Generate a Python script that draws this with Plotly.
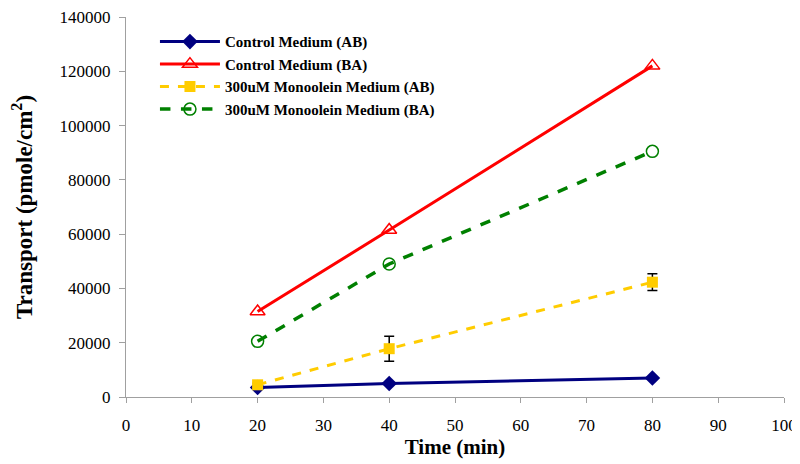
import plotly.graph_objects as go

time = [20, 40, 80]
ctrl_ab = [3500, 5000, 7000]
ctrl_ba = [31500, 61500, 122000]
mono_ab = [4500, 17800, 42300]
mono_ab_err = [600, 4600, 3100]
mono_ba = [20500, 49000, 90500]

names = ["Control Medium (AB)", "Control Medium (BA)",
         "300uM Monoolein Medium (AB)", "300uM Monoolein Medium (BA)"]

fig = go.Figure()
fig.add_trace(go.Scatter(x=time, y=ctrl_ab, name=names[0], mode="lines+markers",
                         line=dict(color="#000080", width=3),
                         marker=dict(symbol="diamond", size=12, color="#000080")))
fig.add_trace(go.Scatter(x=time, y=ctrl_ba, name=names[1], mode="lines+markers",
                         line=dict(color="#FF0000", width=3),
                         marker=dict(symbol="triangle-up-open", size=13, color="#FF0000", line=dict(width=1.5))))
fig.add_trace(go.Scatter(x=time, y=mono_ab, name=names[2], mode="lines+markers",
                         line=dict(color="#FFCC00", width=3, dash="dash"),
                         marker=dict(symbol="square", size=11, color="#FFCC00"),
                         error_y=dict(type="data", array=mono_ab_err, color="black", thickness=1.5, width=5)))
fig.add_trace(go.Scatter(x=time, y=mono_ba, name=names[3], mode="lines+markers",
                         line=dict(color="#008000", width=3.5, dash="dash"),
                         marker=dict(symbol="circle-open", size=12, color="#008000", line=dict(width=1.5))))

fig.update_layout(
    width=792, height=456,
    margin=dict(l=118, r=16, t=9, b=67),
    paper_bgcolor="white", plot_bgcolor="white",
    font=dict(family="Liberation Serif, Times New Roman, serif", color="black", size=17),
    legend=dict(x=0.044, y=0.978, xanchor="left", yanchor="top",
                font=dict(size=15, family="Liberation Serif", color="black", weight="bold"),
                bgcolor="rgba(0,0,0,0)", tracegroupgap=0, itemwidth=60),
    showlegend=True,
)
fig.update_xaxes(range=[0, 100], dtick=10, showgrid=False, zeroline=False, automargin=False,
                 showline=True, linecolor="#a0a0a0", linewidth=1, ticklabeloverflow="allow",
                 ticks="outside", ticklen=5, tickcolor="#a0a0a0", ticklabelstandoff=8,
                 title=dict(text="<b>Time (min)</b>", font=dict(size=21), standoff=0))
fig.update_yaxes(range=[0, 140000], dtick=20000, tickformat="d", showgrid=False, zeroline=False,
                 automargin=False, ticklabeloverflow="allow",
                 showline=True, linecolor="#a0a0a0", linewidth=1,
                 ticks="outside", ticklen=6, tickcolor="#a0a0a0", ticklabelstandoff=5,
                 title=dict(text="<b>Transport (pmole/cm<sup>2</sup>)</b>", font=dict(size=23), standoff=22))

fig.write_html("out.html")
